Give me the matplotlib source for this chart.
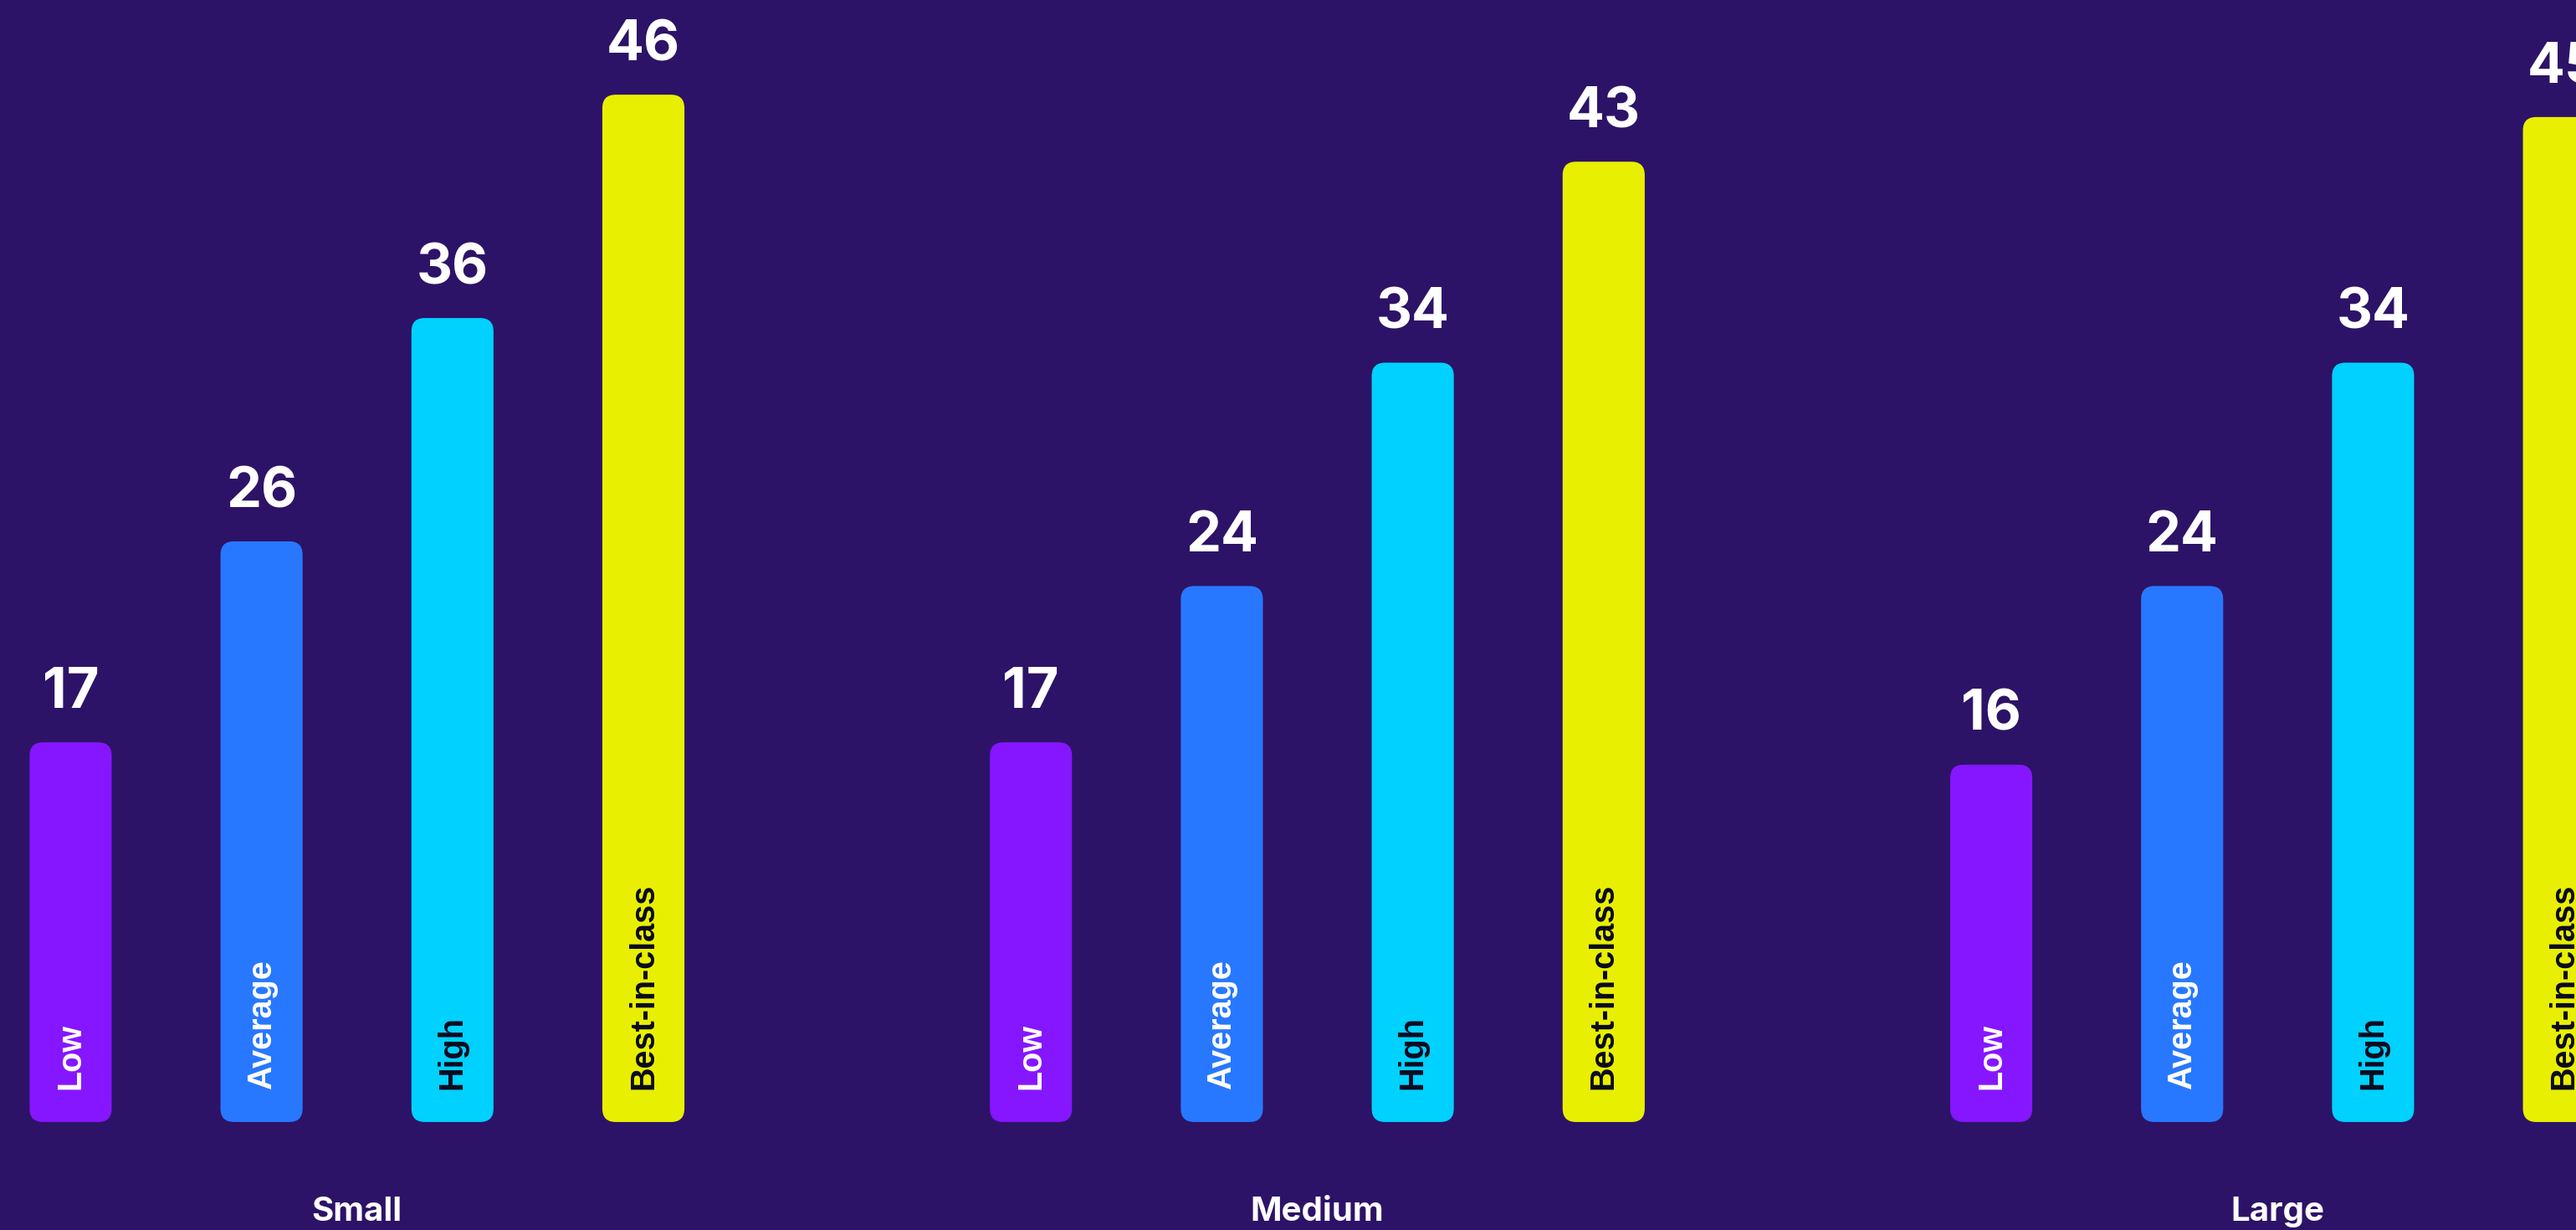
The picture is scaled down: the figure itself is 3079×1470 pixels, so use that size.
import matplotlib
matplotlib.use("Agg")
import matplotlib.pyplot as plt
from matplotlib.patches import FancyBboxPatch
from matplotlib.transforms import blended_transform_factory

# Data
groups = ["Small", "Medium", "Large"]
tiers = ["Low", "Average", "High", "Best-in-class"]
small_vals = [17, 26, 36, 46]
medium_vals = [17, 24, 34, 43]
large_vals = [16, 24, 34, 45]
series = [small_vals, medium_vals, large_vals]

# Styling
bg = "#2C1367"
bar_colors = ["#8616FF", "#2878FF", "#00D1FF", "#E9EF00"]
inner_text_colors = ["white", "white", "#0A0A1E", "#0A0A1E"]
group_step = 5.03
bar_width = 0.43

W, H, DPI = 3079, 1470, 100
fig = plt.figure(figsize=(W / DPI, H / DPI), dpi=DPI, facecolor=bg)
ax = fig.add_axes([0, 0.0878, 1, 0.9122])
ax.set_facecolor(bg)
ax.set_xlim(-0.370, 13.123)
ax.set_ylim(0, 50.24)
ax.axis("off")

# pixels per data unit, used to keep the corner rounding circular
px_x = ax.transData.transform((1, 0))[0] - ax.transData.transform((0, 0))[0]
px_y = ax.transData.transform((0, 1))[1] - ax.transData.transform((0, 0))[1]
radius_px = 16
r_x = radius_px / px_x
aspect = px_x / px_y

for g, vals in enumerate(series):
    xs = [g * group_step + i for i in range(len(vals))]
    bars = ax.bar(xs, vals, width=bar_width, color=bar_colors)
    for i, (rect, v) in enumerate(zip(bars, vals)):
        rect.set_visible(False)
        patch = FancyBboxPatch(
            (rect.get_x(), rect.get_y()), rect.get_width(), rect.get_height(),
            boxstyle=f"round,pad=0,rounding_size={r_x}",
            mutation_aspect=aspect,
            facecolor=bar_colors[i], edgecolor="none",
        )
        ax.add_patch(patch)
        # value above bar
        ax.annotate(str(v), xy=(xs[i], v), xytext=(0, 29.5),
                    textcoords="offset points", ha="center", va="baseline",
                    fontsize=48, fontweight="bold", family="Inter",
                    color="white", annotation_clip=False)
        # tier name inside bar
        ax.annotate(tiers[i], xy=(xs[i], 0), xytext=(0, 28),
                    textcoords="offset points", ha="center", va="bottom",
                    rotation=90, fontsize=28.5, fontweight="bold",
                    family="Liberation Sans", color=inner_text_colors[i])
    # group name beneath
    trans = blended_transform_factory(ax.transData, fig.transFigure)
    ax.text(g * group_step + 1.5, 0.0143, groups[g], transform=trans,
            ha="center", va="center", fontsize=29, fontweight="bold",
            family="Inter", color="white", clip_on=False)

fig.savefig("out.png", dpi=DPI, facecolor=bg)
